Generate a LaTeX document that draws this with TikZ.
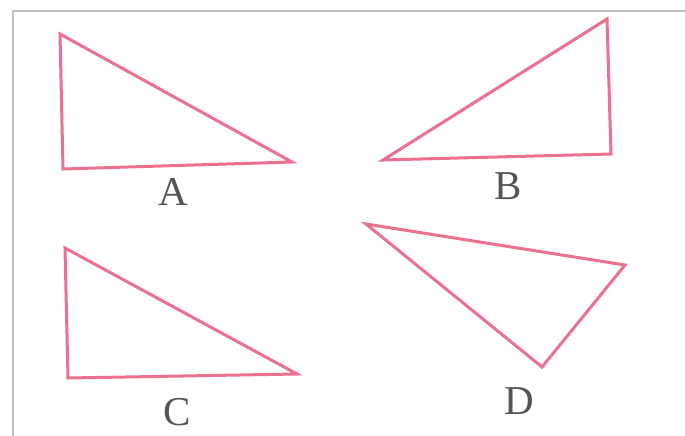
\documentclass[tikz,border=0pt]{standalone}
\usepackage{fontspec}
\setmainfont{Liberation Serif}
\definecolor{tri}{RGB}{238,112,145}
\definecolor{frame}{RGB}{192,192,192}
\definecolor{lab}{RGB}{85,85,85}
\begin{document}
\begin{tikzpicture}[x=1pt,y=-1pt,
  triangle/.style={draw=tri,line width=3pt,line join=miter},
  letter/.style={text=lab,font=\fontsize{41}{41}\selectfont,inner sep=0pt}]
\useasboundingbox (0,0) rectangle (685,436);
\fill[white] (0,0) rectangle (685,436);
\draw[frame,line width=2pt] (13,436) -- (13,11) -- (685,11);
% A
\coordinate (a1) at (60,34);
\coordinate (a2) at (63,169);
\coordinate (a3) at (292,162);
\draw[triangle] (a1) -- (a2) -- (a3) -- cycle;
\node[letter] (la) at (173,192) {A};
% B
\coordinate (b1) at (607,19);
\coordinate (b2) at (611,154);
\coordinate (b3) at (383,160);
\draw[triangle] (b1) -- (b2) -- (b3) -- cycle;
\node[letter] (lb) at (508,186) {B};
% C
\coordinate (c1) at (65,248);
\coordinate (c2) at (68,378);
\coordinate (c3) at (297,374);
\draw[triangle] (c1) -- (c2) -- (c3) -- cycle;
\node[letter] (lc) at (177,412) {C};
% D
\coordinate (d1) at (366,224);
\coordinate (d2) at (625,265);
\coordinate (d3) at (542,367);
\draw[triangle] (d1) -- (d2) -- (d3) -- cycle;
\node[letter] (ld) at (519,401) {D};
\end{tikzpicture}
\end{document}
